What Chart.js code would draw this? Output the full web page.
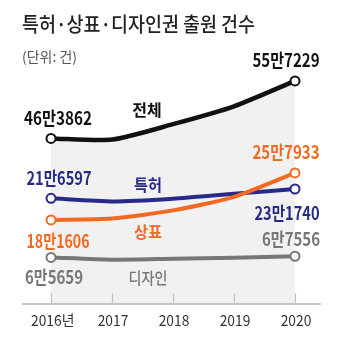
<!DOCTYPE html>
<html>
<head>
<meta charset="utf-8">
<script src="https://cdn.jsdelivr.net/npm/chart.js@4"></script>
<style>
  html, body { margin: 0; padding: 0; background: #fff; }
  #wrap { width: 337px; height: 340px; position: relative; }
</style>
</head>
<body>
<div id="wrap"><canvas id="c" width="337" height="340"></canvas></div>
<script>
// ---- data (건) ----
const years = ['2016년', '2017', '2018', '2019', '2020'];
const totalValues = [463862, 462000, 487000, 516000, 557229];
const patentValues = [216597, 211600, 216000, 224000, 231740];
const trademarkValues = [181606, 183700, 197000, 219000, 257933];
const designValues = [65659, 62000, 63500, 65000, 67556];
const seriesNames = ['전체', '특허', '상표', '디자인'];
const titleText = '특허·상표·디자인권 출원 건수';
const unitText = '(단위: 건)';

const C_TOTAL = '#111111';
const C_PATENT = '#272a86';
const C_TM = '#f26a21';
const C_DESIGN = '#777777';

const NUM_FONT = '"Liberation Sans Narrow", "Noto Sans CJK KR", sans-serif';
const KR_FONT = '"Noto Sans CJK KR", sans-serif';

function fmt(v) {
  const man = Math.floor(v / 10000);
  const rest = v % 10000;
  return man + '만' + rest;
}

function endRadius(ctx) {
  const n = ctx.chart.data.labels.length;
  return (ctx.dataIndex === 0 || ctx.dataIndex === n - 1) ? 4.5 : 0;
}

function ds(label, data, color, axis, extra) {
  return Object.assign({
    label, data, yAxisID: axis,
    borderColor: color, borderWidth: 4,
    tension: 0.22, cubicInterpolationMode: 'default',
    pointRadius: endRadius, pointHoverRadius: endRadius,
    pointBackgroundColor: '#fff', pointBorderColor: color, pointBorderWidth: 2,
    fill: false
  }, extra || {});
}

function txt(ctx, s, x, y, font, color, sx, align) {
  ctx.save();
  ctx.font = font;
  ctx.fillStyle = color;
  ctx.textBaseline = 'middle';
  ctx.textAlign = align || 'center';
  ctx.translate(x, y);
  ctx.scale(sx || 1, 1);
  ctx.fillText(s, 0, 0);
  ctx.restore();
}

function fitTxt(ctx, s, x, y, font, color, width) {
  ctx.save();
  ctx.font = font;
  const w = ctx.measureText(s).width;
  ctx.restore();
  txt(ctx, s, x, y, font, color, width / w, 'left');
}

const decor = {
  id: 'decor',
  afterDatasetsDraw(chart) {
    const ctx = chart.ctx;
    const xs = chart.scales.x;
    const area = chart.chartArea;
    // axis line
    ctx.save();
    ctx.strokeStyle = '#b4b4b4';
    ctx.lineWidth = 1.5;
    ctx.beginPath();
    ctx.moveTo(22, area.bottom);
    ctx.lineTo(321, area.bottom);
    ctx.stroke();
    // tick marks
    ctx.strokeStyle = '#c4c4c4';
    ctx.lineWidth = 1.2;
    for (let i = 0; i < years.length; i++) {
      const px = Math.round(xs.getPixelForValue(i)) + 0.5;
      ctx.beginPath();
      ctx.moveTo(px, area.bottom - 11);
      ctx.lineTo(px, area.bottom);
      ctx.stroke();
    }
    ctx.restore();
    // category labels (condensed)
    const tickFont = '15px ' + NUM_FONT;
    for (let i = 0; i < years.length; i++) {
      const px = xs.getPixelForValue(i);
      const s = years[i];
      if (i === 0) {
        txt(ctx, s, px - 20, area.bottom + 16, tickFont, '#333', 0.92, 'left');
      } else {
        txt(ctx, s, px + 1, area.bottom + 16, tickFont, '#333', 0.92);
      }
    }

    // title and unit
    fitTxt(ctx, titleText, 22, 24, '500 20px ' + KR_FONT, '#222', 233);
    fitTxt(ctx, unitText, 22, 57, '14px ' + KR_FONT, '#555', 55);

    const numFont = 'bold 18px ' + NUM_FONT;
    const n = years.length - 1;
    const pt = (di, i) => chart.getDatasetMeta(di).data[i];
    const lab = (di, i, dx, dy, color, w) => {
      const p = pt(di, i);
      const v = chart.data.datasets[di].data[i];
      const s = fmt(v);
      ctx.save(); ctx.font = numFont; const mw = ctx.measureText(s).width; ctx.restore();
      txt(ctx, s, p.x + dx, p.y + dy, numFont, color, w / mw);
    };
    // dataset indices: 0 total, 1 trademark, 2 patent, 3 design
    lab(0, 0, 7, -20, C_TOTAL, 68);
    lab(0, n, -9, -21, C_TOTAL, 67);
    lab(2, 0, 8, -20, C_PATENT, 65);
    lab(2, n, -8, 24, C_PATENT, 65);
    lab(1, 0, 7, 21, C_TM, 63);
    lab(1, n, -9, -21, C_TM, 67);
    lab(3, 0, 3, 20, C_DESIGN, 58);
    lab(3, n, -4, -17, C_DESIGN, 58);

    // series names
    const nameFont = 'bold 16px ' + KR_FONT;
    const x1 = xs.getPixelForValue(1) + 35;
    txt(ctx, seriesNames[0], x1, 110, nameFont, C_TOTAL, 1.0);
    txt(ctx, seriesNames[1], x1 + 1, 185, nameFont, C_PATENT, 0.95);
    txt(ctx, seriesNames[2], x1 + 1, 232, nameFont, C_TM, 0.95);
    txt(ctx, seriesNames[3], x1 + 1, 278, '500 16px ' + KR_FONT, C_DESIGN, 0.88);
  }
};

const SPAN = 380000;
new Chart(document.getElementById('c'), {
  type: 'line',
  data: {
    labels: years,
    datasets: [
      ds(seriesNames[0], totalValues, C_TOTAL, 'yT', {
        fill: 'start', backgroundColor: '#f1f1f1', borderWidth: 4.5
      }),
      ds(seriesNames[2], trademarkValues, C_TM, 'yPM'),
      ds(seriesNames[1], patentValues, C_PATENT, 'yPM'),
      ds(seriesNames[3], designValues, C_DESIGN, 'yD')
    ]
  },
  options: {
    responsive: false,
    animation: false,
    events: [],
    layout: { padding: { left: 51, right: 42, top: 70, bottom: 28 } },
    plugins: {
      legend: { display: false },
      title: { display: false },
      tooltip: { enabled: false },
      filler: { drawTime: 'beforeDatasetsDraw' }
    },
    scales: {
      x: {
        offset: false,
        grid: { display: false },
        border: { display: false },
        ticks: { display: false }
      },
      yT: { display: false, min: 195000, max: 195000 + SPAN },
      yPM: { display: false, min: 45000, max: 45000 + SPAN },
      yD: { display: false, min: -10000, max: -10000 + SPAN }
    }
  },
  plugins: [decor]
});
</script>
</body>
</html>
